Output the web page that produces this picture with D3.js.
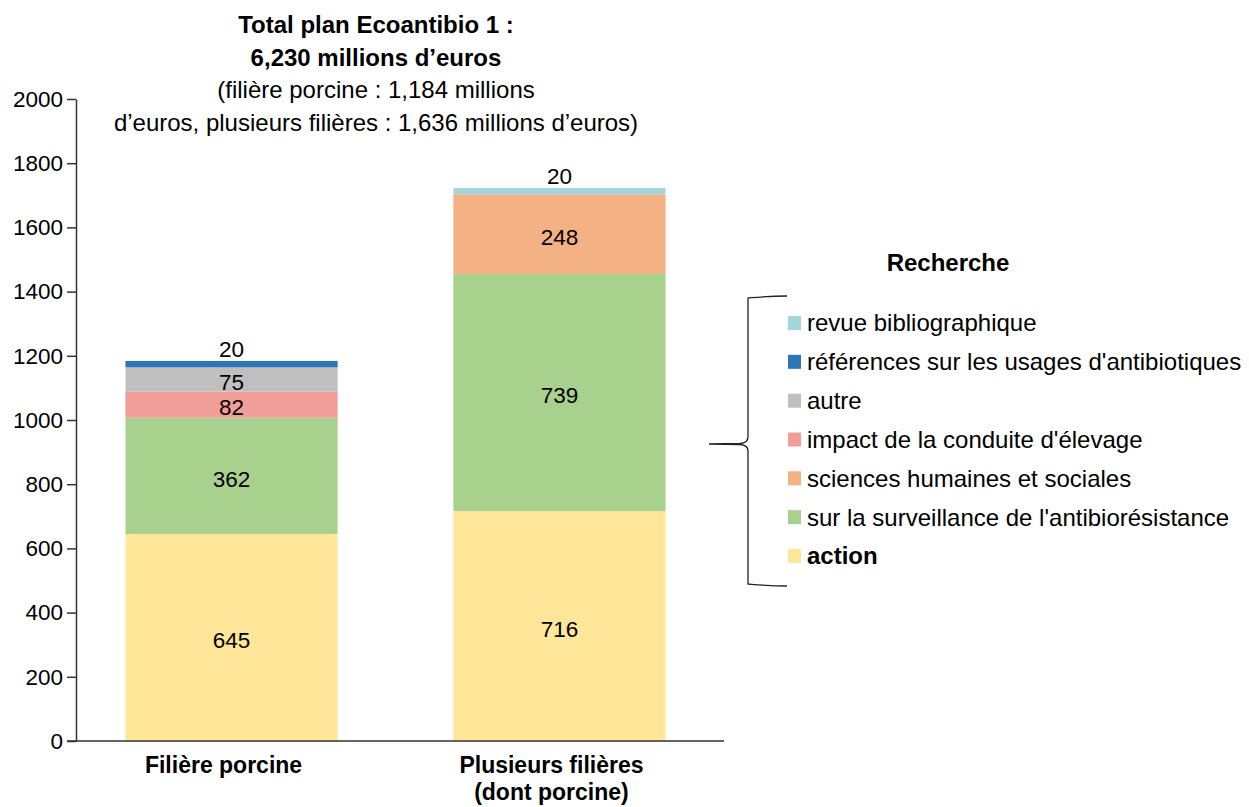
<!DOCTYPE html>
<html lang="fr">
<head>
<meta charset="utf-8">
<title>Ecoantibio 1</title>
<script src="https://d3js.org/d3.v7.min.js"></script>
<style>
  body { margin: 0; background: #fff; }
  svg { font-family: "Liberation Sans", Arial, sans-serif; }
  .axis text { font-size: 22.5px; fill: #000; }
  .axis path, .axis line { stroke: #333; stroke-width: 1.5; }
</style>
</head>
<body>
<script>
// data
var categories = ["Filière porcine", "Plusieurs filières (dont porcine)"];
var catLines = [["Filière porcine"], ["Plusieurs filières", "(dont porcine)"]];
// stack order from bottom to top
var seriesKeys = ["action", "surveillance", "impact", "autre", "references", "shs", "revue"];
var porcine   = [645, 362, 82, 75, 20, 0, 0];
var plusieurs = [716, 739, 0, 0, 0, 248, 20];
var seriesColors = ["#FFE699", "#A9D18E", "#F29E98", "#BFBFBF", "#2E75B6", "#F4B183", "#A5D6DC"];
var legendKeys = ["revue", "references", "autre", "impact", "shs", "surveillance", "action"];
var legendLabels = ["revue bibliographique", "références sur les usages d'antibiotiques", "autre",
  "impact de la conduite d'élevage", "sciences humaines et sociales",
  "sur la surveillance de l'antibiorésistance", "action"];
var yTicks = [0, 200, 400, 600, 800, 1000, 1200, 1400, 1600, 1800, 2000];
var titleLines = ["Total plan Ecoantibio 1 :", "6,230 millions d’euros",
  "(filière porcine : 1,184 millions", "d’euros, plusieurs filières : 1,636 millions d’euros)"];
// labels drawn above the bar instead of inside
var aboveKeys = ["references", "revue"];

var width = 1249, height = 807;
var svg = d3.select("body").append("svg").attr("width", width).attr("height", height);

var rows = categories.map(function(c, i) {
  var r = { cat: c };
  seriesKeys.forEach(function(k, j) { r[k] = [porcine, plusieurs][i][j]; });
  return r;
});
var stacked = d3.stack().keys(seriesKeys)(rows);

var y = d3.scaleLinear().domain([0, 2000]).range([741, 99]);
var x = d3.scaleBand().domain(categories).range([72, 719]).paddingInner(0.353).paddingOuter(0.163);
var color = d3.scaleOrdinal().domain(seriesKeys).range(seriesColors);

// bars
svg.append("g").selectAll("g")
  .data(stacked).enter().append("g")
  .attr("fill", function(d) { return color(d.key); })
  .selectAll("rect")
  .data(function(d) { return d; }).enter().append("rect")
  .attr("x", function(d) { return x(d.data.cat); })
  .attr("width", x.bandwidth())
  .attr("y", function(d) { return y(d[1]); })
  .attr("height", function(d) { return y(d[0]) - y(d[1]); });

// value labels
stacked.forEach(function(s) {
  s.forEach(function(d) {
    var v = d[1] - d[0];
    if (!v) return;
    var above = aboveKeys.indexOf(s.key) >= 0;
    svg.append("text")
      .attr("x", x(d.data.cat) + x.bandwidth() / 2)
      .attr("y", above ? y(d[1]) - 12 : y((d[0] + d[1]) / 2) + 3)
      .attr("dy", "0.35em")
      .attr("text-anchor", "middle")
      .style("font-size", "22.5px")
      .text(v);
  });
});

// y axis
svg.append("g").attr("class", "axis")
  .attr("transform", "translate(76,0)")
  .call(d3.axisLeft(y).tickValues(yTicks).tickFormat(d3.format("d"))
    .tickSize(9).tickSizeOuter(0).tickPadding(4));

// x axis line
svg.append("line")
  .attr("x1", x.range()[0] - 5).attr("x2", x.range()[1] + 5)
  .attr("y1", y(0)).attr("y2", y(0))
  .attr("stroke", "#333").attr("stroke-width", 1.5);

// category labels
categories.forEach(function(c, i) {
  var cx = x(c) + x.bandwidth() / 2 - 8;
  var t = svg.append("text")
    .attr("x", cx)
    .attr("y", 773)
    .attr("text-anchor", "middle")
    .style("font-size", "23px").style("font-weight", "bold");
  catLines[i].forEach(function(l, j) {
    t.append("tspan").attr("x", cx).attr("dy", j ? 26.5 : 0).text(l);
  });
});

// title
titleLines.forEach(function(l, i) {
  svg.append("text")
    .attr("x", 376).attr("y", 33 + i * 32.5)
    .attr("text-anchor", "middle")
    .style("font-size", "24px")
    .style("font-weight", i < 2 ? "bold" : "normal")
    .text(l);
});

// legend
var legend = svg.append("g").attr("transform", "translate(788,0)");
legend.append("text")
  .attr("x", 160).attr("y", 271)
  .attr("text-anchor", "middle")
  .style("font-size", "24px").style("font-weight", "bold")
  .text("Recherche");

var ly = d3.scalePoint().domain(legendKeys).range([323, 556]);
legendKeys.forEach(function(k, i) {
  legend.append("rect")
    .attr("x", 0).attr("y", ly(k) - 7)
    .attr("width", 13).attr("height", 14)
    .attr("fill", color(k));
  legend.append("text")
    .attr("x", 19).attr("y", ly(k))
    .attr("dy", "0.35em")
    .style("font-size", "24px")
    .style("font-weight", k === "action" ? "bold" : "normal")
    .text(legendLabels[i]);
});

// brace
svg.append("path")
  .attr("d", "M787,296 C770,296 760,297 748,298 L748,437 Q748,443 740,443.5 L709,444 L740,444.5 Q748,445 748,451 L748,584 C760,585 770,586 787,586")
  .attr("fill", "none").attr("stroke", "#222").attr("stroke-width", 1.3);
</script>
</body>
</html>
